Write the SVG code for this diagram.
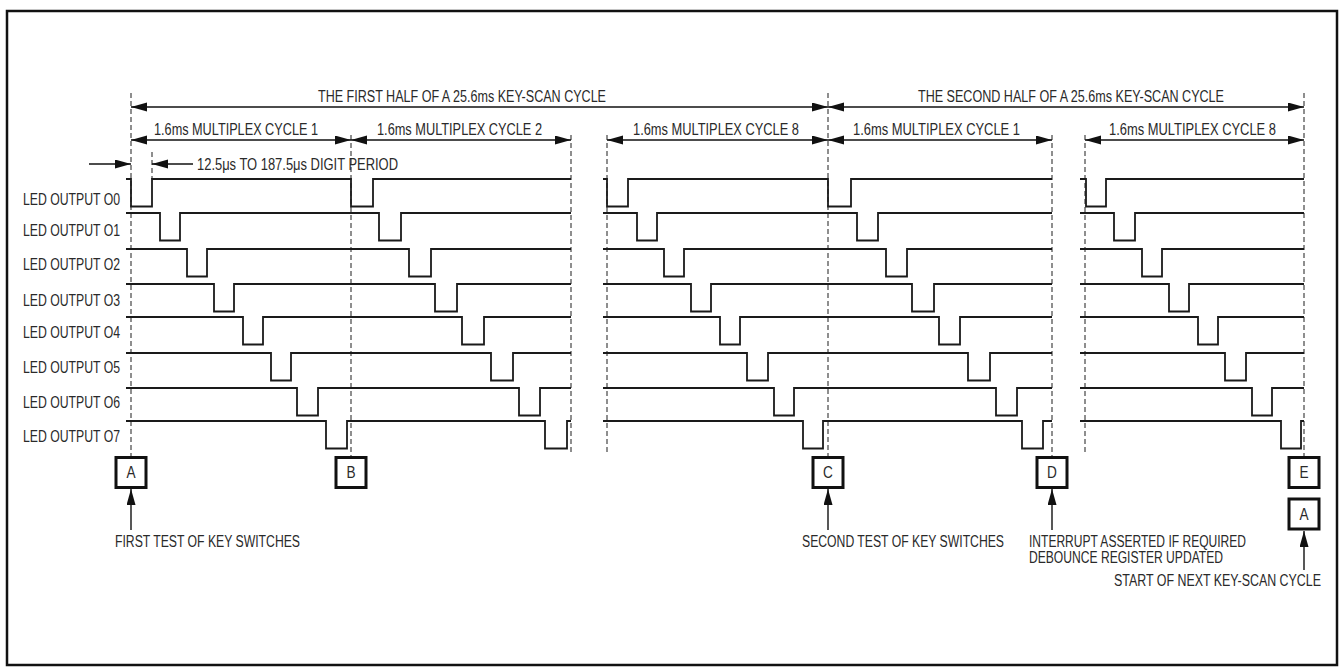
<svg xmlns="http://www.w3.org/2000/svg" width="1341" height="671" viewBox="0 0 1341 671">
<style>
text{font-family:"Liberation Sans",Arial,sans-serif;font-size:12.4px;fill:#2a2a2a}
.wave{fill:none;stroke:#1a1a1a;stroke-width:1.8;stroke-linejoin:miter}
.dash{stroke:#444;stroke-width:1.2;stroke-dasharray:5,3;fill:none}
.arr{stroke:#111;stroke-width:1.4;fill:none;marker-end:url(#ah);marker-start:url(#ah)}
.arr1{stroke:#111;stroke-width:1.4;fill:none;marker-end:url(#ah)}
.box{fill:#fff;stroke:#111;stroke-width:3}
.bl{text-anchor:middle}
</style>
<defs>
<marker id="ah" markerUnits="userSpaceOnUse" markerWidth="17" markerHeight="10" refX="16" refY="4.5" orient="auto-start-reverse"><path d="M0,0 L16,4.5 L0,9 z" fill="#111"/></marker>
</defs>
<rect x="7" y="11" width="1330" height="654" fill="#fff" stroke="#111" stroke-width="2.5"/>

<g id="dashed-lines">
<line class="dash" x1="131" y1="93" x2="131" y2="456"/>
<line class="dash" x1="152" y1="152" x2="152" y2="179"/>
<line class="dash" x1="351" y1="135" x2="351" y2="456"/>
<line class="dash" x1="571" y1="135" x2="571" y2="453"/>
<line class="dash" x1="607" y1="135" x2="607" y2="453"/>
<line class="dash" x1="828" y1="93" x2="828" y2="456"/>
<line class="dash" x1="1052" y1="135" x2="1052" y2="456"/>
<line class="dash" x1="1085" y1="135" x2="1085" y2="453"/>
<line class="dash" x1="1304" y1="93" x2="1304" y2="456"/>
</g>

<g id="labels">
<text transform="translate(23,205) scale(1,1.29)" textLength="97" lengthAdjust="spacingAndGlyphs">LED OUTPUT O0</text>
<text transform="translate(23,236) scale(1,1.29)" textLength="97" lengthAdjust="spacingAndGlyphs">LED OUTPUT O1</text>
<text transform="translate(23,270) scale(1,1.29)" textLength="97" lengthAdjust="spacingAndGlyphs">LED OUTPUT O2</text>
<text transform="translate(23,306) scale(1,1.29)" textLength="97" lengthAdjust="spacingAndGlyphs">LED OUTPUT O3</text>
<text transform="translate(23,338) scale(1,1.29)" textLength="97" lengthAdjust="spacingAndGlyphs">LED OUTPUT O4</text>
<text transform="translate(23,373) scale(1,1.29)" textLength="97" lengthAdjust="spacingAndGlyphs">LED OUTPUT O5</text>
<text transform="translate(23,408) scale(1,1.29)" textLength="97" lengthAdjust="spacingAndGlyphs">LED OUTPUT O6</text>
<text transform="translate(23,442) scale(1,1.29)" textLength="97" lengthAdjust="spacingAndGlyphs">LED OUTPUT O7</text>
</g>

<g id="waveforms">
<path id="o0" class="wave" d="M126,179 H131 V206.5 H152 V179 H351 V206.5 H373 V179 H571 M603,179 H607 V206.5 H628 V179 H828 V206.5 H851 V179 H1052 M1080,179 H1086 V206.5 H1106 V179 H1304"/>
<path id="o1" class="wave" d="M126,213 H160 V240.5 H180 V213 H379 V240.5 H401 V213 H571 M603,213 H637 V240.5 H657 V213 H857 V240.5 H878 V213 H1052 M1080,213 H1114 V240.5 H1135 V213 H1304"/>
<path id="o2" class="wave" d="M126,249 H187 V276.5 H207 V249 H409 V276.5 H431 V249 H571 M603,249 H664 V276.5 H684 V249 H886 V276.5 H907 V249 H1052 M1080,249 H1142 V276.5 H1162 V249 H1304"/>
<path id="o3" class="wave" d="M126,284 H214 V311.5 H234 V284 H435 V311.5 H457 V284 H571 M603,284 H691 V311.5 H711 V284 H912 V311.5 H934 V284 H1052 M1080,284 H1169 V311.5 H1189 V284 H1304"/>
<path id="o4" class="wave" d="M126,317 H243 V344.5 H263 V317 H462 V344.5 H484 V317 H571 M603,317 H720 V344.5 H740 V317 H939 V344.5 H960 V317 H1052 M1080,317 H1198 V344.5 H1218 V317 H1304"/>
<path id="o5" class="wave" d="M126,353 H271 V380.5 H291 V353 H491 V380.5 H513 V353 H571 M603,353 H747 V380.5 H768 V353 H968 V380.5 H990 V353 H1052 M1080,353 H1225 V380.5 H1246 V353 H1304"/>
<path id="o6" class="wave" d="M126,388 H297 V415.5 H318 V388 H519 V415.5 H540 V388 H571 M603,388 H774 V415.5 H794 V388 H996 V415.5 H1017 V388 H1052 M1080,388 H1252 V415.5 H1272 V388 H1304"/>
<path id="o7" class="wave" d="M126,421 H326 V448.5 H347 V421 H545 V448.5 H567 V421 H571 M603,421 H803 V448.5 H823 V421 H1022 V448.5 H1043 V421 H1052 M1080,421 H1281 V448.5 H1301 V421 H1304"/>
</g>

<g id="connectors">
<line class="arr" x1="131" y1="107" x2="828" y2="107"/>
<line class="arr" x1="828" y1="107" x2="1304" y2="107"/>
<line class="arr" x1="131" y1="140" x2="351" y2="140"/>
<line class="arr" x1="351" y1="140" x2="571" y2="140"/>
<line class="arr" x1="607" y1="140" x2="828" y2="140"/>
<line class="arr" x1="828" y1="140" x2="1052" y2="140"/>
<line class="arr" x1="1085" y1="140" x2="1304" y2="140"/>
<line class="arr1" x1="89" y1="164" x2="131" y2="164"/>
<line class="arr1" x1="193" y1="164" x2="152" y2="164"/>
<line class="arr1" x1="131" y1="530" x2="131" y2="489"/>
<line class="arr1" x1="828" y1="530" x2="828" y2="489"/>
<line class="arr1" x1="1052" y1="530" x2="1052" y2="489"/>
<line class="arr1" x1="1304" y1="570" x2="1304" y2="531"/>
</g>

<g id="timing-labels">
<text transform="translate(318,102) scale(1,1.29)" textLength="288" lengthAdjust="spacingAndGlyphs">THE FIRST HALF OF A 25.6ms KEY-SCAN CYCLE</text>
<text transform="translate(918,102) scale(1,1.29)" textLength="306" lengthAdjust="spacingAndGlyphs">THE SECOND HALF OF A 25.6ms KEY-SCAN CYCLE</text>
<text transform="translate(154,134.5) scale(1,1.29)" textLength="164" lengthAdjust="spacingAndGlyphs">1.6ms MULTIPLEX CYCLE 1</text>
<text transform="translate(377,134.5) scale(1,1.29)" textLength="165" lengthAdjust="spacingAndGlyphs">1.6ms MULTIPLEX CYCLE 2</text>
<text transform="translate(633,134.5) scale(1,1.29)" textLength="166" lengthAdjust="spacingAndGlyphs">1.6ms MULTIPLEX CYCLE 8</text>
<text transform="translate(853,134.5) scale(1,1.29)" textLength="167" lengthAdjust="spacingAndGlyphs">1.6ms MULTIPLEX CYCLE 1</text>
<text transform="translate(1109,134.5) scale(1,1.29)" textLength="167" lengthAdjust="spacingAndGlyphs">1.6ms MULTIPLEX CYCLE 8</text>
<text transform="translate(197,170) scale(1,1.29)" textLength="201" lengthAdjust="spacingAndGlyphs">12.5μs TO 187.5μs DIGIT PERIOD</text>
</g>

<g id="node-A"><rect class="box" x="116" y="457.5" width="30" height="30"/><text class="bl" transform="translate(131,478) scale(1.1,1.29)">A</text></g>
<g id="node-B"><rect class="box" x="336" y="457.5" width="30" height="30"/><text class="bl" transform="translate(351,478) scale(1.1,1.29)">B</text></g>
<g id="node-C"><rect class="box" x="813" y="457.5" width="30" height="30"/><text class="bl" transform="translate(828,478) scale(1.1,1.29)">C</text></g>
<g id="node-D"><rect class="box" x="1037" y="457.5" width="30" height="30"/><text class="bl" transform="translate(1052,478) scale(1.1,1.29)">D</text></g>
<g id="node-E"><rect class="box" x="1289" y="457.5" width="30" height="30"/><text class="bl" transform="translate(1304,478) scale(1.1,1.29)">E</text></g>
<g id="node-A2"><rect class="box" x="1289" y="499" width="30" height="30"/><text class="bl" transform="translate(1304,519.5) scale(1.1,1.29)">A</text></g>

<g id="notes">
<text transform="translate(115,547) scale(1,1.29)" textLength="185" lengthAdjust="spacingAndGlyphs">FIRST TEST OF KEY SWITCHES</text>
<text transform="translate(802,547) scale(1,1.29)" textLength="202" lengthAdjust="spacingAndGlyphs">SECOND TEST OF KEY SWITCHES</text>
<text transform="translate(1029,547) scale(1,1.29)"><tspan x="0" y="0" textLength="217" lengthAdjust="spacingAndGlyphs">INTERRUPT ASSERTED IF REQUIRED</tspan><tspan x="0" y="12.4" textLength="194" lengthAdjust="spacingAndGlyphs">DEBOUNCE REGISTER UPDATED</tspan></text>
<text transform="translate(1114,586) scale(1,1.29)" textLength="207" lengthAdjust="spacingAndGlyphs">START OF NEXT KEY-SCAN CYCLE</text>
</g>
</svg>
